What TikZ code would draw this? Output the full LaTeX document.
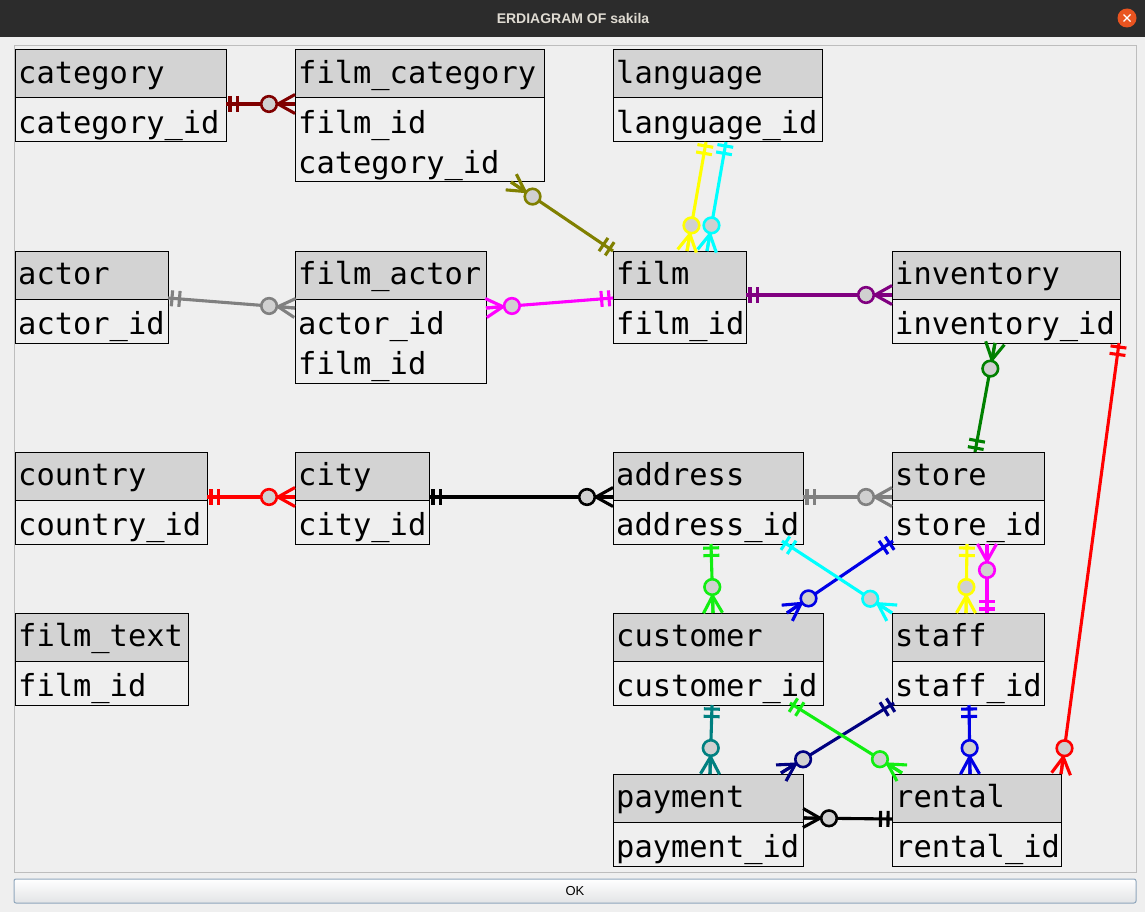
\documentclass[tikz,border=0pt]{standalone}
\usepackage{fontspec}
\newfontfamily\erMono{DejaVu Sans Mono}
\newfontfamily\erUI{Liberation Sans}
\usetikzlibrary{calc}
\definecolor{winbg}{HTML}{EFEFEF}
\definecolor{hdrgray}{HTML}{D3D3D3}
\definecolor{circgray}{HTML}{D0D0D0}
\definecolor{titlebg}{HTML}{2C2C2C}
\definecolor{titlefg}{HTML}{DFDBD2}
\definecolor{closeor}{HTML}{E95420}
\definecolor{panelln}{HTML}{BDBDBD}
\definecolor{okborder}{HTML}{8FA6BC}
\definecolor{okfill}{HTML}{EDEFF1}
\definecolor{cdarkred}{HTML}{800000}
\definecolor{colive}{HTML}{808000}
\definecolor{cyellow}{HTML}{FFFF00}
\definecolor{ccyan}{HTML}{00FFFF}
\definecolor{cgray}{HTML}{808080}
\definecolor{cmagenta}{HTML}{FF00FF}
\definecolor{cpurple}{HTML}{800080}
\definecolor{cgreen}{HTML}{008000}
\definecolor{cred}{HTML}{FF0000}
\definecolor{cblack}{HTML}{000000}
\definecolor{clime}{HTML}{11EE11}
\definecolor{cblue}{HTML}{0000E6}
\definecolor{cnavy}{HTML}{000080}
\definecolor{cteal}{HTML}{008080}
\tikzset{
  hdrbox/.style={draw=black, line width=1pt, fill=hdrgray, minimum height=48pt, inner sep=0pt, outer sep=0pt},
  bodybox/.style={draw=black, line width=1pt, fill=winbg, inner sep=0pt, outer sep=0pt},
  tbltext/.style={anchor=base west, inner sep=0pt, font=\erMono\fontsize{30.4}{36}\selectfont},
  rel/.style={line width=3.1pt},
  titletext/.style={text=titlefg, font=\erUI\bfseries\fontsize{14}{16}\selectfont, inner sep=0pt},
  closebtn/.style={circle, fill=closeor, minimum size=19pt, inner sep=0pt},
  okbtn/.style={draw=okborder, line width=1pt, rounded corners=2pt, top color=white, bottom color=okfill!90!gray,
     minimum width=1122pt, minimum height=24pt, inner sep=0pt, font=\erUI\fontsize{13}{15}\selectfont},
  panel/.style={draw=panelln, line width=1pt},
}
\newcommand\erTable[7]{%
  \node[hdrbox, minimum width=#4pt, anchor=north west] (#1) at (#2,#3) {};
  \node[bodybox, minimum width=#4pt, minimum height={4+40*#6}, anchor=north west] (#1-b) at (#1.south west) {};
  \node[tbltext] (#1-t) at ($(#1.north west)+(3,33.5)$) {#5};
  \foreach \r [count=\i] in {#7} {\node[tbltext] (#1-r\i) at ($(#1-b.north west)+(3,{35.5+40*(\i-1)})$) {\r};}
}
\newcommand\erRel[3]{%
  \draw[rel,#1] (#2) -- (#3);
  \coordinate (tmpb1) at ($(#2)!4pt!(#3)$);
  \coordinate (tmpb2) at ($(#2)!11.5pt!(#3)$);
  \draw[rel,#1] ($(tmpb1)!8pt!90:(#3)$) -- ($(tmpb1)!8pt!-90:(#3)$);
  \draw[rel,#1] ($(tmpb2)!8pt!90:(#3)$) -- ($(tmpb2)!8pt!-90:(#3)$);
  \draw[#1, line width=2.6pt, fill=circgray] ($(#3)!26pt!(#2)$) circle[radius=7.8pt];
  \coordinate (tmpap) at ($(#3)!17pt!(#2)$);
  \draw[rel,#1] (tmpap) -- (#3);
  \draw[rel,#1] (tmpap) -- ($(#3)!9.5pt!90:(#2)$);
  \draw[rel,#1] (tmpap) -- ($(#3)!9.5pt!-90:(#2)$);
}
\begin{document}
\begin{tikzpicture}[x=1pt,y=-1pt]
\useasboundingbox (0,0) rectangle (1145,912);
\fill[winbg] (0,0) rectangle (1145,912);
\fill[titlebg] (0,0) rectangle (1145,37);
\node[titletext] (title) at (573,18) {ERDIAGRAM OF sakila};
\node[closebtn] (close) at (1127,18) {};
\draw[white, line width=1.3pt] ($(close.center)+(-3.5,-3.5)$) -- ($(close.center)+(3.5,3.5)$)
  ($(close.center)+(-3.5,3.5)$) -- ($(close.center)+(3.5,-3.5)$);
\draw[panel] (14,46) rectangle (1136,872);
\node[okbtn] (ok) at (575,891) {OK};

% tables
\erTable{category}{15}{50}{211}{category}{1}{category\_id}
\erTable{filmcategory}{295}{50}{249}{film\_category}{2}{film\_id,category\_id}
\erTable{language}{613}{50}{209}{language}{1}{language\_id}
\erTable{actor}{15}{251}{153}{actor}{1}{actor\_id}
\erTable{filmactor}{295}{251}{191}{film\_actor}{2}{actor\_id,film\_id}
\erTable{film}{613}{251}{133}{film}{1}{film\_id}
\erTable{inventory}{892}{251}{228}{inventory}{1}{inventory\_id}
\erTable{country}{15}{452}{192}{country}{1}{country\_id}
\erTable{city}{295}{452}{134}{city}{1}{city\_id}
\erTable{address}{613}{452}{190}{address}{1}{address\_id}
\erTable{store}{892}{452}{152}{store}{1}{store\_id}
\erTable{filmtext}{15}{613}{173}{film\_text}{1}{film\_id}
\erTable{customer}{613}{613}{210}{customer}{1}{customer\_id}
\erTable{staff}{892}{613}{152}{staff}{1}{staff\_id}
\erTable{payment}{613}{774}{190}{payment}{1}{payment\_id}
\erTable{rental}{892}{774}{169}{rental}{1}{rental\_id}

% connector end points
\coordinate (r1o) at ($(category-b.north east)+(0,6)$);
\coordinate (r1m) at ($(filmcategory-b.north west)+(0,6)$);
\coordinate (r2o) at (film.north west);
\coordinate (r2m) at ($(filmcategory-b.south west)+(216,0)$);
\coordinate (r3o) at ($(language-b.south west)+(93,0)$);
\coordinate (r3m) at ($(film.north west)+(74,0)$);
\coordinate (r4o) at ($(language-b.south west)+(113,0)$);
\coordinate (r4m) at ($(film.north west)+(94,0)$);
\coordinate (r5o) at ($(actor-b.north east)+(0,-1)$);
\coordinate (r5m) at ($(filmactor-b.north west)+(0,9)$);
\coordinate (r6o) at ($(film-b.north west)+(0,-1)$);
\coordinate (r6m) at ($(filmactor-b.north east)+(0,9)$);
\coordinate (r7o) at ($(film.south east)+(0,-4)$);
\coordinate (r7m) at ($(inventory.south west)+(0,-4)$);
\coordinate (r8o) at ($(store.north west)+(83,0)$);
\coordinate (r8m) at ($(inventory-b.south west)+(103,0)$);
\coordinate (r9o) at ($(inventory-b.south east)+(-1,0)$);
\coordinate (r9m) at (rental.north east);
\coordinate (r10o) at ($(country.south east)+(0,-3)$);
\coordinate (r10m) at ($(city.south west)+(0,-3)$);
\coordinate (r11o) at ($(city.south east)+(0,-3)$);
\coordinate (r11m) at ($(address.south west)+(0,-3)$);
\coordinate (r12o) at ($(address.south east)+(0,-3)$);
\coordinate (r12m) at ($(store.south west)+(0,-3)$);
\coordinate (r13o) at ($(address-b.south west)+(98,0)$);
\coordinate (r13m) at ($(customer.north west)+(100,0)$);
\coordinate (r14o) at ($(store-b.south west)+(1,-3)$);
\coordinate (r14m) at ($(customer.north west)+(174,0)$);
\coordinate (r15o) at ($(address-b.south west)+(169,-3)$);
\coordinate (r15m) at (staff.north west);
\coordinate (r16o) at ($(store-b.south west)+(75,0)$);
\coordinate (r16m) at ($(staff.north west)+(74,0)$);
\coordinate (r17o) at ($(staff.north west)+(95,0)$);
\coordinate (r17m) at ($(store-b.south west)+(95,0)$);
\coordinate (r18o) at ($(customer-b.south west)+(99,0)$);
\coordinate (r18m) at ($(payment.north west)+(97,0)$);
\coordinate (r19o) at ($(staff-b.south west)+(2,-2)$);
\coordinate (r19m) at ($(payment.north west)+(168,-1)$);
\coordinate (r20o) at ($(customer-b.south west)+(177,-2)$);
\coordinate (r20m) at ($(rental.north west)+(10,-1)$);
\coordinate (r21o) at ($(staff-b.south west)+(77,0)$);
\coordinate (r21m) at ($(rental.north west)+(78,0)$);
\coordinate (r22o) at ($(rental-b.north west)+(0,-3)$);
\coordinate (r22m) at ($(payment-b.north east)+(0,-4)$);

% connectors
\erRel{cdarkred}{r1o}{r1m}
\erRel{colive}{r2o}{r2m}
\erRel{cyellow}{r3o}{r3m}
\erRel{ccyan}{r4o}{r4m}
\erRel{cgray}{r5o}{r5m}
\erRel{cmagenta}{r6o}{r6m}
\erRel{cpurple}{r7o}{r7m}
\erRel{cgreen}{r8o}{r8m}
\erRel{cred}{r9o}{r9m}
\erRel{cred}{r10o}{r10m}
\erRel{cblack}{r11o}{r11m}
\erRel{cgray}{r12o}{r12m}
\erRel{clime}{r13o}{r13m}
\erRel{cblue}{r14o}{r14m}
\erRel{ccyan}{r15o}{r15m}
\erRel{cyellow}{r16o}{r16m}
\erRel{cmagenta}{r17o}{r17m}
\erRel{cteal}{r18o}{r18m}
\erRel{cnavy}{r19o}{r19m}
\erRel{clime}{r20o}{r20m}
\erRel{cblue}{r21o}{r21m}
\erRel{cblack}{r22o}{r22m}
\end{tikzpicture}
\end{document}
